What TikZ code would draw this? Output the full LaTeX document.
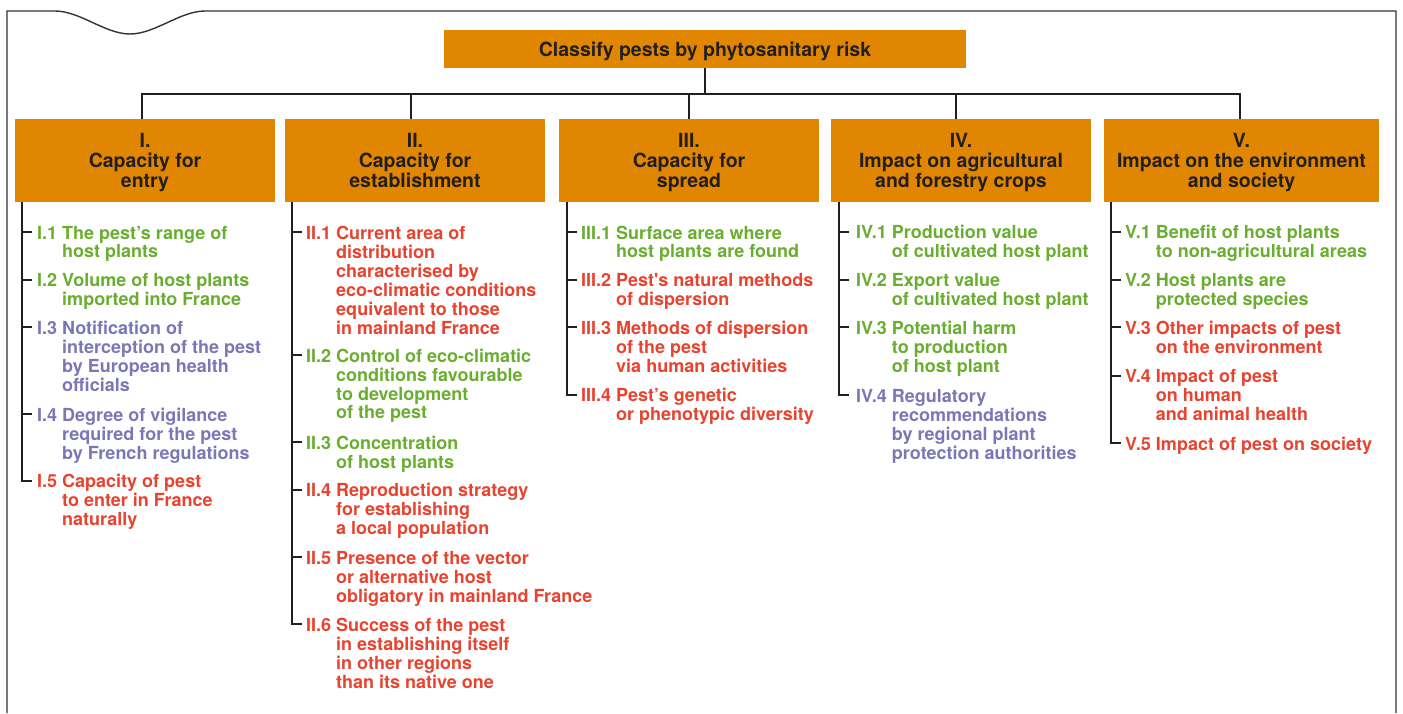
\documentclass[tikz,border=0pt]{standalone}
\usepackage{fontspec}
\setmainfont{TeX Gyre Heros}
\usetikzlibrary{calc}
\definecolor{orng}{HTML}{E08600}
\definecolor{hdrtext}{HTML}{231F20}
\definecolor{linec}{HTML}{231F20}
\definecolor{framec}{HTML}{333333}
\definecolor{igreen}{HTML}{69AE2E}
\definecolor{ired}{HTML}{E8432F}
\definecolor{ipurple}{HTML}{7B77B7}
\newcommand\itm[2]{\begin{tabular}[t]{@{}l@{\ }l@{}}#1&\begin{tabular}[t]{@{}l@{}}#2\end{tabular}\end{tabular}}
\tikzset{
  tree/.style={line width=2pt, draw=linec},
  frameline/.style={line width=1.4pt, draw=framec},
  hdr/.style={fill=orng, text=hdrtext, minimum height=83pt, align=center, inner sep=0pt,
    text height=57pt, text depth=4pt,
    font=\fontsize{19.5}{20}\selectfont\bfseries},
  titlebox/.style={fill=orng, text=hdrtext, minimum width=522pt, minimum height=38pt, inner sep=0pt,
    text height=18.5pt, text depth=4pt,
    font=\fontsize{19.5}{20}\selectfont\bfseries},
  item/.style={inner sep=0pt, anchor=base west, font=\fontsize{18}{18.8}\selectfont\bfseries},
}
\begin{document}
\begin{tikzpicture}[x=1pt,y=-1pt]
\useasboundingbox (0,0) rectangle (1403,713);
% outer frame
\draw[frameline] (7,713) -- (7,11) -- (55,11) .. controls (80,11) and (105,34) .. (130,34)
  .. controls (155,34) and (180,11) .. (205,11) -- (1396,11) -- (1396,713);

% title and headers
\node[titlebox] (top) at (705,49) {Classify pests by phytosanitary risk};
\node[hdr, minimum width=260pt] (hI)   at (145,160.5)  {I.\\Capacity for\\entry};
\node[hdr, minimum width=260pt] (hII)  at (415,160.5)  {II.\\Capacity for\\establishment};
\node[hdr, minimum width=260pt] (hIII) at (689,160.5)  {III.\\Capacity for\\spread};
\node[hdr, minimum width=260pt] (hIV)  at (961,160.5)  {IV.\\Impact on agricultural\\and forestry crops};
\node[hdr, minimum width=275pt] (hV)   at (1241.5,160.5) {V.\\Impact on the environment\\and society};

% top connectors
\coordinate (sI) at (142,94);
\coordinate (sII) at (410.5,94);
\coordinate (sIII) at (689,94);
\coordinate (sIV) at (956,94);
\coordinate (sV) at (1240,94);
\draw[tree] (top.south) -- (top.south |- sI);
\draw[tree] (sI |- hI.north) -- (sI) -- (sV) -- (sV |- hV.north);
\draw[tree] (sII) -- (sII |- hII.north);
\draw[tree] (sIII) -- (sIII |- hIII.north);
\draw[tree] (sIV) -- (sIV |- hIV.north);

% column I
\node[item, text=igreen]  (a1) at (37,239)   {\itm{I.1}{The pest’s range of\\host plants}};
\node[item, text=igreen]  (a2) at (37,286.7) {\itm{I.2}{Volume of host plants\\imported into France}};
\node[item, text=ipurple] (a3) at (37,334.3) {\itm{I.3}{Notification of\\interception of the pest\\by European health\\officials}};
\node[item, text=ipurple] (a4) at (37,421)   {\itm{I.4}{Degree of vigilance\\required for the pest\\by French regulations}};
\node[item, text=ired]    (a5) at (37,487.7) {\itm{I.5}{Capacity of pest\\to enter in France\\naturally}};

% column II
\node[item, text=ired]    (b1) at (306,239)   {\itm{II.1}{Current area of\\distribution\\characterised by\\eco-climatic conditions\\equivalent to those\\in mainland France}};
\node[item, text=igreen]  (b2) at (306,362.3) {\itm{II.2}{Control of eco-climatic\\conditions favourable\\to development\\of the pest}};
\node[item, text=igreen]  (b3) at (306,449.3) {\itm{II.3}{Concentration\\of host plants}};
\node[item, text=ired]    (b4) at (306,496.7) {\itm{II.4}{Reproduction strategy\\for establishing\\a local population}};
\node[item, text=ired]    (b5) at (306,564)   {\itm{II.5}{Presence of the vector\\or alternative host\\obligatory in mainland France}};
\node[item, text=ired]    (b6) at (306,631)   {\itm{II.6}{Success of the pest\\in establishing itself\\in other regions\\than its native one}};

% column III
\node[item, text=igreen]  (c1) at (581,239)   {\itm{III.1}{Surface area where\\host plants are found}};
\node[item, text=ired]    (c2) at (581,286.7) {\itm{III.2}{Pest\textquotesingle s natural methods\\of dispersion}};
\node[item, text=ired]    (c3) at (581,334.3) {\itm{III.3}{Methods of dispersion\\of the pest\\via human activities}};
\node[item, text=ired]    (c4) at (581,401.7) {\itm{III.4}{Pest’s genetic\\or phenotypic diversity}};

% column IV
\node[item, text=igreen]  (d1) at (856,238.5) {\itm{IV.1}{Production value\\of cultivated host plant}};
\node[item, text=igreen]  (d2) at (856,286.7) {\itm{IV.2}{Export value\\of cultivated host plant}};
\node[item, text=igreen]  (d3) at (856,334.3) {\itm{IV.3}{Potential harm\\to production\\of host plant}};
\node[item, text=ipurple] (d4) at (856,402.3) {\itm{IV.4}{Regulatory\\recommendations\\by regional plant\\protection authorities}};

% column V
\node[item, text=igreen]  (e1) at (1125,238.5) {\itm{V.1}{Benefit of host plants\\to non-agricultural areas}};
\node[item, text=igreen]  (e2) at (1125,286.7) {\itm{V.2}{Host plants are\\protected species}};
\node[item, text=ired]    (e3) at (1125,334.3) {\itm{V.3}{Other impacts of pest\\on the environment}};
\node[item, text=ired]    (e4) at (1125,382.7) {\itm{V.4}{Impact of pest\\on human\\and animal health}};
\node[item, text=ired]    (e5) at (1125,450)   {\itm{V.5}{Impact of pest on society}};

% tree lines
\coordinate (tA) at (22,0);
\coordinate (tB) at (291.7,0);
\coordinate (tC) at (566.7,0);
\coordinate (tD) at (839,0);
\coordinate (tE) at (1111,0);

\draw[tree] (tA |- hI.south) -- ($(tA |- a5.base west)+(0,-7)$) -- ++(10,0);
\foreach \n in {a1,a2,a3,a4} \draw[tree] (tA |- \n.base west) ++(0,-7) -- ++(10,0);

\draw[tree] (tB |- hII.south) -- ($(tB |- b6.base west)+(0,-7)$) -- ++(10,0);
\foreach \n in {b1,b2,b3,b4,b5} \draw[tree] (tB |- \n.base west) ++(0,-7) -- ++(10,0);

\draw[tree] (tC |- hIII.south) -- ($(tC |- c4.base west)+(0,-7)$) -- ++(10,0);
\foreach \n in {c1,c2,c3} \draw[tree] (tC |- \n.base west) ++(0,-7) -- ++(10,0);

\draw[tree] (tD |- hIV.south) -- ($(tD |- d4.base west)+(0,-7)$) -- ++(10,0);
\foreach \n in {d1,d2,d3} \draw[tree] (tD |- \n.base west) ++(0,-7) -- ++(10,0);

\draw[tree] (tE |- hV.south) -- ($(tE |- e5.base west)+(0,-7)$) -- ++(10,0);
\foreach \n in {e1,e2,e3,e4} \draw[tree] (tE |- \n.base west) ++(0,-7) -- ++(10,0);
\end{tikzpicture}
\end{document}
